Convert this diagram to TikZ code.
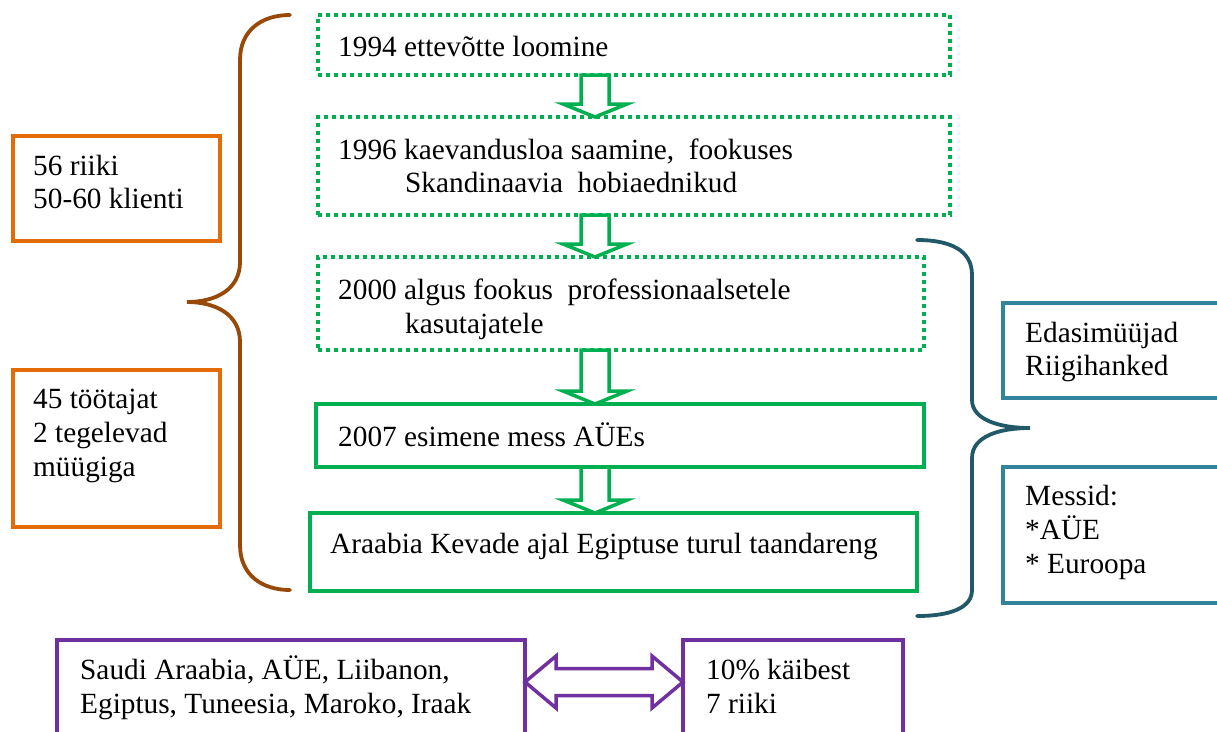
\documentclass[tikz,border=0pt]{standalone}
\usepackage{fontspec}
\setmainfont{Liberation Serif}
\usetikzlibrary{calc}
\definecolor{stepgreen}{HTML}{00B050}
\definecolor{factorange}{HTML}{E36C09}
\definecolor{bracebrown}{HTML}{984807}
\definecolor{braceteal}{HTML}{215968}
\definecolor{boxteal}{HTML}{31849B}
\definecolor{marketpurple}{HTML}{7030A0}
\tikzset{
  frame/.style={draw, line width=3.5pt, rectangle, anchor=north west, inner sep=0pt, outer sep=0pt},
  dotframe/.style={frame, draw=stepgreen, dash pattern=on 3.8pt off 4.2pt},
  stepframe/.style={frame, draw=stepgreen},
  factframe/.style={frame, draw=factorange},
  channelframe/.style={frame, draw=boxteal},
  marketframe/.style={frame, draw=marketpurple},
  txt/.style={anchor=base west, inner sep=0pt, font=\fontsize{29.3}{33}\selectfont},
  downarrow/.style={draw=stepgreen, line width=3.5pt, fill=white, line join=miter},
  brace/.style={line width=3.8pt, line cap=round},
}
% block arrow pointing down from #1 (top) to #2 (bottom)
\newcommand\downblock[2]{%
  \draw[downarrow] let \p1=(#1), \p2=(#2) in
    ({\x1-14pt},\y1) -- ({\x1+14pt},\y1) -- ({\x1+14pt},{\y2+13pt}) --
    ({\x1+32pt},{\y2+13pt}) -- (\x1,\y2) -- ({\x1-32pt},{\y2+13pt}) --
    ({\x1-14pt},{\y2+13pt}) -- cycle;}
\begin{document}
\begin{tikzpicture}[x=1pt,y=-1pt]
\useasboundingbox (0,0) rectangle (1217,731);
\fill[white] (0,0) rectangle (1217,731);
\clip (0,0) rectangle (1217,731);

% timeline steps
\node[dotframe, minimum width=632pt, minimum height=60pt] (b1) at (318,15) {};
\node[dotframe, minimum width=632pt, minimum height=98pt] (b2) at (318,117) {};
\node[dotframe, minimum width=606pt, minimum height=93pt] (b3) at (318,257) {};
\node[stepframe, minimum width=608pt, minimum height=63pt] (b4) at (316,404) {};
\node[stepframe, minimum width=607pt, minimum height=78pt] (b5) at (310,513) {};

\node[txt] (t1) at (338,56) {1994 ettevõtte loomine};
\node[txt] (t2a) at (338,159) {1996 kaevandusloa saamine,\ \ fookuses};
\node[txt] (t2b) at (405,192) {Skandinaavia\ \ hobiaednikud};
\node[txt] (t3a) at (338,299) {2000 algus fookus\ \ professionaalsetele};
\node[txt] (t3b) at (405,333) {kasutajatele};
\node[txt] (t4) at (338,446) {2007 esimene mess AÜEs};
\node[txt] (t5) at (330,553) {Araabia Kevade ajal Egiptuse turul taandareng};

% arrows between steps
\coordinate (ax) at (595,0);
\downblock{b1.south -| ax}{b2.north -| ax}
\downblock{b2.south -| ax}{b3.north -| ax}
\downblock{b3.south -| ax}{b4.north -| ax}
\downblock{b4.south -| ax}{b5.north -| ax}

% company facts
\node[factframe, minimum width=207pt, minimum height=105pt] (f1) at (13,136) {};
\node[txt] (f1a) at (33,175) {56 riiki};
\node[txt] (f1b) at (33,208) {50-60 klienti};
\node[factframe, minimum width=207pt, minimum height=157pt] (f2) at (13,370) {};
\node[txt] (f2a) at (33,408) {45 töötajat};
\node[txt] (f2b) at (33,442) {2 tegelevad};
\node[txt] (f2c) at (33,476) {müügiga};

\draw[brace, bracebrown] (290,15) .. controls (262,15) and (240,30) .. (240,60)
  -- (240,262) .. controls (240,290) and (215,302) .. (187,302)
  .. controls (215,302) and (240,314) .. (240,342)
  -- (240,545) .. controls (240,575) and (262,590) .. (290,590);

% sales channels
\node[channelframe, minimum width=260pt, minimum height=95pt] (c1) at (1003,303) {};
\node[txt] (c1a) at (1025,342) {Edasimüüjad};
\node[txt] (c1b) at (1025,375) {Riigihanked};
\node[channelframe, minimum width=260pt, minimum height=136pt] (c2) at (1003,467) {};
\node[txt] (c2a) at (1025,505) {Messid:};
\node[txt] (c2b) at (1025,539) {*AÜE};
\node[txt] (c2c) at (1025,573) {* Euroopa};

\draw[brace, braceteal] (917,240) .. controls (950,240) and (972,250) .. (972,275)
  -- (972,400) .. controls (972,420) and (1000,428) .. (1030,428)
  .. controls (1000,428) and (972,436) .. (972,458)
  -- (972,590) .. controls (972,608) and (950,616) .. (917,616);

% markets
\node[marketframe, minimum width=468pt, minimum height=130pt] (m1) at (57,640) {};
\node[txt] (m1a) at (80,679) {Saudi Araabia, AÜE, Liibanon,};
\node[txt] (m1b) at (80,713) {Egiptus, Tuneesia, Maroko, Iraak};
\node[marketframe, minimum width=220pt, minimum height=130pt] (m2) at (683,640) {};
\node[txt] (m2a) at (706,679) {10\% käibest};
\node[txt] (m2b) at (706,713) {7 riiki};

\coordinate (ay) at (0,682);
\draw[draw=marketpurple, line width=3.5pt, fill=white, line join=miter]
  let \p1=(m1.east |- ay), \p2=(m2.west |- ay) in
  (\x1,\y1) -- ({\x1+31pt},{\y1+26pt}) -- ({\x1+31pt},{\y1+13.5pt}) --
  ({\x2-31pt},{\y1+13.5pt}) -- ({\x2-31pt},{\y1+26pt}) -- (\x2,\y1) --
  ({\x2-31pt},{\y1-26pt}) -- ({\x2-31pt},{\y1-13.5pt}) --
  ({\x1+31pt},{\y1-13.5pt}) -- ({\x1+31pt},{\y1-26pt}) -- cycle;
\end{tikzpicture}
\end{document}
